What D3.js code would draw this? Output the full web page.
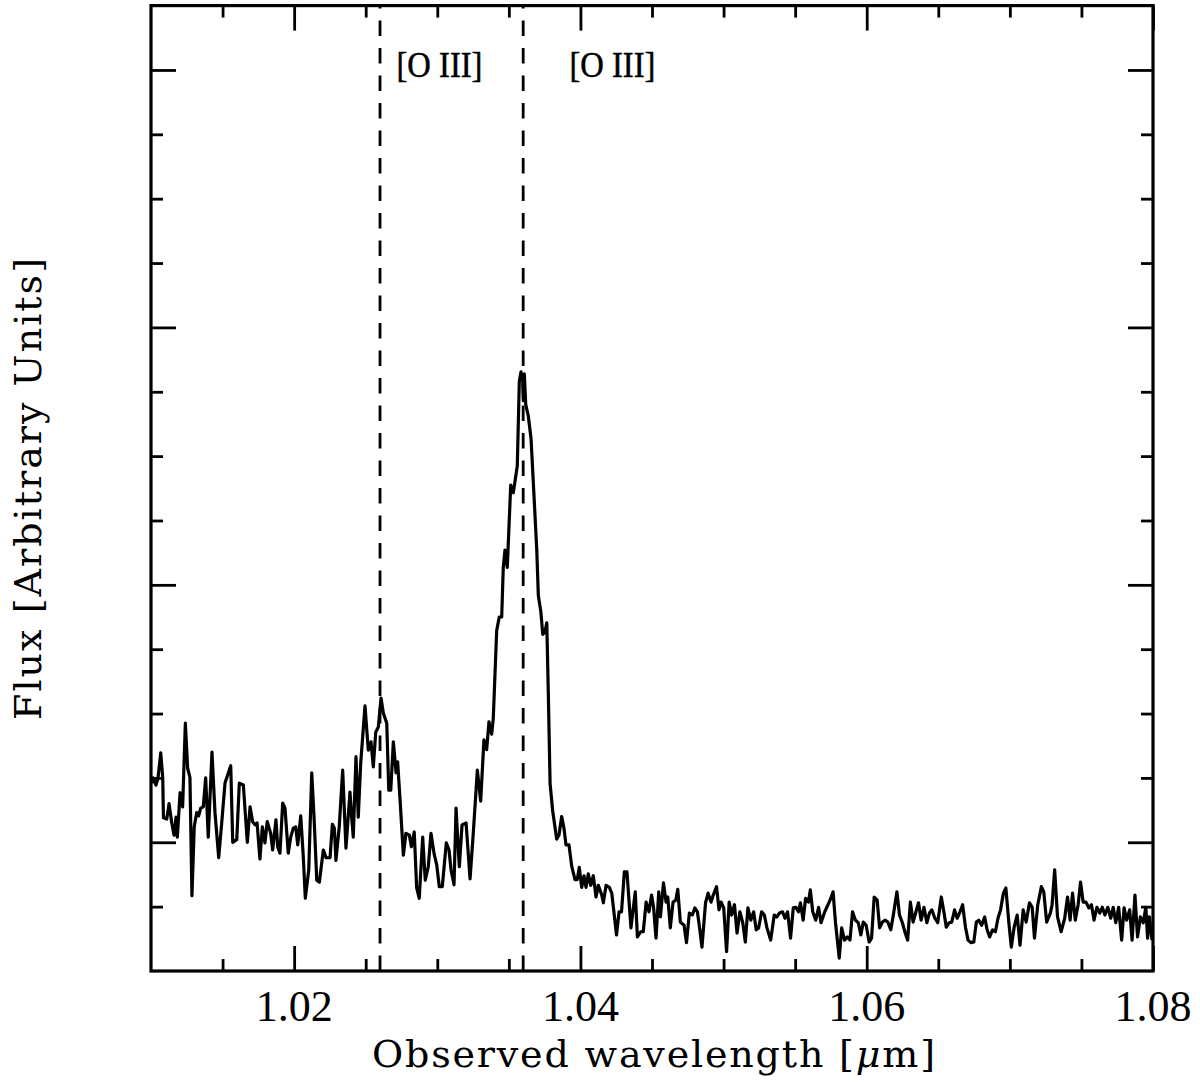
<!DOCTYPE html>
<html>
<head>
<meta charset="utf-8">
<title>[O III] spectrum</title>
<script src="https://cdn.jsdelivr.net/npm/d3@7"></script>
<style>
  html, body { margin: 0; padding: 0; background: #fff; }
  svg { display: block; }
</style>
</head>
<body>
<div id="chart"></div>
<script>
/* ============================================================
   Observed-frame spectrum around the [O III] doublet.
   Flux in arbitrary units, wavelength in micron.
   ============================================================ */

// ---- data ------------------------------------------------------
const wavelength = [
    1.01005,1.01014,1.01035,1.01049,1.01068,1.01082,1.01087,1.01110,1.01126,1.01145,
    1.01161,1.01175,1.01184,1.01203,1.01221,1.01240,1.01256,1.01272,1.01286,1.01302,
    1.01319,1.01333,1.01347,1.01365,1.01382,1.01400,1.01426,1.01447,1.01473,1.01494,
    1.01517,1.01557,1.01571,1.01599,1.01617,1.01645,1.01673,1.01692,1.01710,1.01727,
    1.01741,1.01761,1.01778,1.01796,1.01812,1.01836,1.01850,1.01873,1.01885,1.01901,
    1.01920,1.01936,1.01959,1.01976,1.01994,1.02011,1.02025,1.02046,1.02064,1.02078,
    1.02102,1.02123,1.02139,1.02158,1.02176,1.02204,1.02223,1.02251,1.02267,1.02281,
    1.02292,1.02315,1.02339,1.02362,1.02390,1.02402,1.02413,1.02432,1.02448,1.02465,
    1.02495,1.02518,1.02537,1.02553,1.02570,1.02588,1.02607,1.02623,1.02647,1.02661,
    1.02675,1.02693,1.02712,1.02723,1.02740,1.02763,1.02781,1.02805,1.02819,1.02839,
    1.02856,1.02874,1.02898,1.02916,1.02937,1.02956,1.02977,1.02996,1.03014,1.03035,
    1.03063,1.03082,1.03096,1.03117,1.03131,1.03154,1.03173,1.03201,1.03229,
    1.03252,1.03280,1.03303,1.03326,1.03345,1.03361,1.03380,1.03391,1.03415,1.03433,
    1.03450,1.03461,1.03473,1.03489,1.03513,1.03531,1.03543,1.03559,1.03573,1.03585,
    1.03597,1.03601,1.03608,1.03618,1.03636,1.03655,1.03676,1.03695,1.03706,1.03723,
    1.03737,1.03751,1.03765,1.03776,1.03788,1.03806,1.03834,1.03850,1.03869,1.03885,
    1.03899,1.03920,1.03939,1.03962,1.03978,1.03992,1.04009,1.04025,1.04039,1.04055,
    1.04072,1.04090,1.04109,1.04125,1.04149,1.04160,1.04179,1.04202,1.04219,
    1.04252,1.04270,1.04287,1.04307,1.04325,1.04353,1.04383,1.04398,1.04421,1.04439,
    1.04459,1.04479,1.04497,1.04511,1.04528,1.04547,1.04559,1.04580,1.04598,1.04610,
    1.04628,1.04647,1.04666,1.04680,1.04698,1.04724,1.04741,1.04761,1.04782,1.04799,
    1.04817,1.04832,1.04849,1.04874,1.04892,1.04912,1.04928,1.04951,1.04968,1.04983,
    1.05001,1.05021,1.05039,1.05056,1.05076,1.05094,1.05114,1.05134,1.05152,1.05170,
    1.05190,1.05210,1.05228,1.05245,1.05266,1.05285,1.05303,1.05329,1.05354,1.05371,
    1.05391,1.05412,1.05429,1.05447,1.05468,1.05487,1.05505,1.05523,1.05537,1.05556,
    1.05573,1.05593,1.05606,1.05623,1.05644,1.05664,1.05681,1.05707,1.05744,1.05765,
    1.05782,1.05808,1.05825,1.05845,1.05865,1.05883,1.05901,1.05921,1.05941,1.05959,
    1.05976,1.05996,1.06017,1.06034,1.06052,1.06073,1.06090,1.06110,1.06128,1.06148,
    1.06168,1.06186,1.06211,1.06229,1.06249,1.06269,1.06286,1.06305,1.06324,1.06344,
    1.06362,1.06380,1.06400,1.06420,1.06438,1.06455,1.06476,1.06496,1.06521,1.06539,
    1.06556,1.06576,1.06594,1.06614,1.06632,1.06652,1.06670,1.06690,1.06708,1.06728,
    1.06748,1.06766,1.06783,1.06803,1.06824,1.06841,1.06859,1.06879,1.06899,1.06917,
    1.06935,1.06955,1.06972,1.06993,1.07010,1.07030,1.07051,1.07071,1.07093,1.07114,
    1.07137,1.07156,1.07172,1.07195,1.07220,1.07237,1.07257,1.07283,1.07295,1.07313,
    1.07333,1.07358,1.07383,1.07403,1.07421,1.07438,1.07457,1.07477,1.07494,1.07512,
    1.07532,1.07552,1.07570,1.07588,1.07608,1.07628,1.07646,1.07664,1.07684,1.07705,
    1.07722,1.07740,1.07760,1.07781,1.07798,1.07816,1.07837,1.07854,1.07874,1.07892,
    1.07912,1.07932,1.07950,1.07962,1.07975,1.07993
];

const flux = [
    2.92,3.00,2.89,3.00,3.39,3.00,2.38,2.36,2.60,2.30,
    2.11,2.39,2.08,2.77,2.55,3.85,3.15,3.01,1.17,2.24,
    2.46,2.41,2.53,2.55,3.00,2.08,3.40,2.46,1.76,2.30,
    2.92,3.19,2.00,2.04,2.92,2.89,2.00,2.55,2.32,2.27,
    2.30,1.74,2.24,1.99,2.32,2.14,1.88,2.35,1.93,1.83,
    2.61,2.53,1.83,2.08,2.22,2.24,1.96,2.41,1.77,1.13,
    1.57,3.08,2.39,1.41,1.38,1.88,1.76,1.76,2.28,2.22,
    1.72,2.24,3.12,1.91,2.78,2.39,2.08,3.33,2.39,3.23,
    4.12,3.43,3.56,3.17,3.71,3.79,4.24,4.01,3.85,2.81,
    2.81,3.56,3.08,3.25,2.66,1.80,2.14,2.11,1.93,2.16,
    1.29,1.13,2.08,1.41,1.62,2.14,1.83,1.65,1.31,1.31,
    1.99,1.88,1.57,1.34,2.53,1.62,2.27,2.30,1.43,
    2.16,3.12,2.64,3.59,3.44,3.87,3.68,3.92,5.29,5.50,
    5.50,6.27,6.54,6.27,7.55,7.43,7.61,7.85,9.16,9.31,
    9.16,8.86,9.28,8.80,8.62,8.27,7.37,6.54,5.83,5.59,
    5.23,5.26,5.41,4.28,2.91,2.49,2.05,2.11,2.40,2.22,
    1.96,1.96,1.63,1.42,1.42,1.61,1.30,1.48,1.30,1.51,
    1.33,1.48,1.15,1.33,1.18,1.06,1.33,1.30,1.21,
    0.56,0.92,0.92,1.54,1.54,0.67,1.23,0.53,0.61,0.61,
    1.07,0.92,1.18,0.99,0.51,1.23,0.84,1.37,1.07,1.15,
    0.67,1.07,1.10,1.27,0.76,0.71,0.44,0.90,0.87,0.98,
    0.92,0.68,0.37,1.06,1.21,1.07,1.18,1.31,0.95,1.07,
    0.98,0.30,1.07,0.87,1.03,0.59,0.92,0.75,0.45,0.98,
    0.79,0.92,0.64,0.67,0.92,0.87,0.67,0.48,0.87,0.84,
    0.90,0.92,0.82,0.92,0.51,0.98,0.99,0.92,1.06,0.79,
    1.13,1.07,1.26,0.92,0.79,0.99,0.75,0.92,1.10,1.23,
    0.75,0.20,0.67,0.48,0.53,0.48,0.92,0.79,0.75,0.56,
    0.76,0.71,0.45,0.51,1.15,1.10,0.67,0.76,0.79,0.76,
    0.64,0.87,1.23,0.87,0.75,0.59,0.48,1.07,0.76,0.92,
    1.06,0.79,0.99,0.75,0.90,0.95,0.82,0.75,1.15,0.92,
    0.68,0.75,0.76,0.95,0.82,0.92,1.03,0.68,0.48,0.44,
    0.45,0.76,0.79,0.71,0.84,0.64,0.53,0.64,0.61,0.82,
    0.95,1.21,1.29,0.75,0.37,0.68,0.87,0.40,0.95,0.76,
    1.06,0.99,0.51,1.03,1.31,1.23,0.76,0.90,1.03,1.57,
    0.84,0.61,0.82,1.15,0.79,1.21,0.79,1.03,1.38,1.07,
    1.07,0.98,1.03,0.79,0.99,0.90,0.99,0.87,0.99,0.82,
    0.99,0.75,0.99,0.48,0.98,0.79,0.95,0.48,1.18,0.53,
    0.84,0.75,0.99,0.51,0.84,0.48
];

// expected line positions and their labels
const lineWavelengths = [1.026, 1.036];
const lineLabels = [
    { wl: 1.02715, text: "[O III]" },
    { wl: 1.03923, text: "[O III]" }
];

// axes
const xDomain = [1.01, 1.08];
const yDomain = [0, 15];
const xMajorTicks = [1.02, 1.04, 1.06, 1.08];
const xMinorTicks = [1.015, 1.025, 1.03, 1.035, 1.045, 1.05, 1.055, 1.065, 1.07, 1.075];
const xTickLabels = ["1.02", "1.04", "1.06", "1.08"];
const yMajorTicks = [2, 6, 10, 14];
const yMinorTicks = [1, 3, 4, 5, 7, 8, 9, 11, 12, 13];

(function () {
    "use strict";

    const W = 1200, H = 1084;
    const box = { left: 151, right: 1153, top: 5.6, bottom: 971 };
    const MAJOR = 25, MINOR = 12;

    const svg = d3.select("#chart").append("svg")
        .attr("width", W).attr("height", H)
        .attr("viewBox", [0, 0, W, H]);

    svg.append("rect").attr("width", W).attr("height", H).attr("fill", "#fff");

    const x = d3.scaleLinear().domain(xDomain).range([box.left, box.right]);
    const y = d3.scaleLinear().domain(yDomain).range([box.bottom, box.top]);

    // ---- ticks on all four sides, pointing inward --------------
    function ticks(axisFn, values, len, tx, ty) {
        svg.append("g")
            .attr("transform", `translate(${tx},${ty})`)
            .call(axisFn.tickValues(values).tickSize(-len).tickFormat(""))
            .call(g => g.select(".domain").remove())
            .call(g => g.selectAll(".tick line")
                .attr("stroke", "#000").attr("stroke-width", 2.8))
            .call(g => g.selectAll(".tick text").remove());
    }
    ticks(d3.axisBottom(x), xMajorTicks, MAJOR, 0, box.bottom);
    ticks(d3.axisBottom(x), xMinorTicks, MINOR, 0, box.bottom);
    ticks(d3.axisTop(x), xMajorTicks, MAJOR, 0, box.top);
    ticks(d3.axisTop(x), xMinorTicks, MINOR, 0, box.top);
    ticks(d3.axisLeft(y), yMajorTicks, MAJOR, box.left, 0);
    ticks(d3.axisLeft(y), yMinorTicks, MINOR, box.left, 0);
    ticks(d3.axisRight(y), yMajorTicks, MAJOR, box.right, 0);
    ticks(d3.axisRight(y), yMinorTicks, MINOR, box.right, 0);

    svg.append("g").selectAll("text")
        .data(xMajorTicks)
        .join("text")
        .attr("x", d => x(d))
        .attr("y", 1021)
        .attr("text-anchor", "middle")
        .attr("font-family", "'Liberation Serif', 'Times New Roman', serif")
        .attr("font-size", 44)
        .text((d, i) => xTickLabels[i]);

    // ---- dashed line markers -----------------------------------
    svg.append("g").selectAll("line")
        .data(lineWavelengths)
        .join("line")
        .attr("x1", d => x(d)).attr("x2", d => x(d))
        .attr("y1", y(yDomain[0])).attr("y2", y(yDomain[1]))
        .attr("stroke", "#000")
        .attr("stroke-width", 2.8)
        .attr("stroke-dasharray", "15.5,12");

    svg.append("g").selectAll("text")
        .data(lineLabels)
        .join("text")
        .attr("x", d => x(d.wl))
        .attr("y", 77)
        .attr("font-family", "'Liberation Serif', 'Times New Roman', serif")
        .attr("font-size", 35)
        .attr("stroke", "#000")
        .attr("stroke-width", 0.5)
        .attr("textLength", 86)
        .attr("lengthAdjust", "spacingAndGlyphs")
        .text(d => d.text);

    // ---- spectrum ----------------------------------------------
    const spectrum = wavelength.map((w, i) => [w, flux[i]]);
    const line = d3.line().x(d => x(d[0])).y(d => y(d[1]));

    svg.append("path")
        .datum(spectrum)
        .attr("d", line)
        .attr("fill", "none")
        .attr("stroke", "#000")
        .attr("stroke-width", 3.2)
        .attr("stroke-linejoin", "round");

    // ---- frame -------------------------------------------------
    svg.append("rect")
        .attr("x", box.left).attr("y", box.top)
        .attr("width", box.right - box.left)
        .attr("height", box.bottom - box.top)
        .attr("fill", "none")
        .attr("stroke", "#000")
        .attr("stroke-width", 3.2);

    // ---- axis titles -------------------------------------------
    const xt = svg.append("text")
        .attr("x", 372).attr("y", 1067)
        .attr("font-family", "'DejaVu Serif', serif")
        .attr("font-size", 38)
        .attr("textLength", 563)
        .attr("lengthAdjust", "spacing");
    xt.append("tspan").text("Observed wavelength [");
    xt.append("tspan").attr("font-style", "italic").text("\u03bc");
    xt.append("tspan").text("m]");

    svg.append("text")
        .attr("transform", "translate(41,489) rotate(-90)")
        .attr("text-anchor", "middle")
        .attr("font-family", "'DejaVu Serif', serif")
        .attr("font-size", 38)
        .attr("textLength", 462)
        .attr("lengthAdjust", "spacing")
        .text("Flux [Arbitrary Units]");
})();
</script>
</body>
</html>
